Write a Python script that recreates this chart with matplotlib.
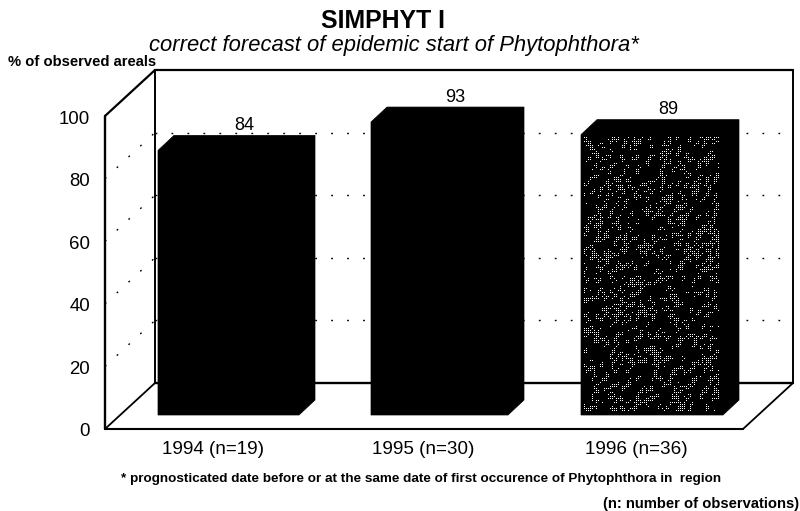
import matplotlib
matplotlib.use("Agg")
import matplotlib.pyplot as plt
from matplotlib.patches import Polygon
import numpy as np

plt.rcParams['font.family'] = ['Liberation Sans', 'DejaVu Sans']

# data
years = ['1994 (n=19)', '1995 (n=30)', '1996 (n=36)']
values = [84, 93, 89]
yticks = [0, 20, 40, 60, 80, 100]

W, H = 800, 511
fig = plt.figure(figsize=(W / 100, H / 100), dpi=100)
ax = fig.add_axes([0, 0, 1, 1])
ax.set_xlim(0, W)
ax.set_ylim(H, 0)
ax.axis('off')

# oblique box, in pixels of the picture
x_front, x_right = 105, 743
y_zero, y_top = 429, 116
dx, dy = 50, -46
per_unit = (y_zero - y_top) / 100.0


def wall_y(v):
    return y_zero + dy - v * per_unit


def front_y(v):
    return y_zero - v * per_unit


def line(xs, ys, lw=1.6):
    ax.plot(xs, ys, color='black', lw=lw, solid_capstyle='round', zorder=2)


# gridlines, back wall and left side wall
for v in yticks[1:-1]:
    ax.plot([x_front + dx, x_right + dx], [wall_y(v), wall_y(v)], color='black',
            lw=1.0, linestyle=(0, (1.3, 10.2)), zorder=1)
    ax.plot([x_front, x_front + dx], [front_y(v), wall_y(v)], color='black',
            lw=1.0, linestyle=(0, (1.3, 10.2)), zorder=1)

# box outline
line([x_front, x_front], [front_y(0), front_y(100)], 1.7)
line([x_front + dx, x_front + dx], [wall_y(0), wall_y(100)], 1.4)
line([x_right + dx, x_right + dx], [wall_y(0), wall_y(100)], 1.4)
line([x_front, x_front + dx], [front_y(100), wall_y(100)])
line([x_front + dx, x_right + dx], [wall_y(100), wall_y(100)])
line([x_front, x_front + dx], [front_y(0), wall_y(0)], 1.3)
line([x_front + dx, x_right + dx], [wall_y(0), wall_y(0)], 1.7)
line([x_front, x_right], [front_y(0), front_y(0)], 1.5)
line([x_right, x_right + dx], [front_y(0), wall_y(0)], 1.3)

# bars
bar_lefts = [158, 371, 581]
bar_rights = [299, 508, 723]
bar_base = 415
bar_scale = 3.15
bar_dx, bar_dy = 16, -15

for i, v in enumerate(values):
    x0 = bar_lefts[i]
    x1 = bar_rights[i]
    top = bar_base - v * bar_scale
    outline = [(x0, bar_base), (x0, top), (x0 + bar_dx, top + bar_dy),
               (x1 + bar_dx, top + bar_dy), (x1 + bar_dx, bar_base + bar_dy),
               (x1, bar_base)]
    ax.add_patch(Polygon(outline, closed=True, fc='black', ec='black', lw=0.5, zorder=3))
    ax.text((x0 + x1) / 2 + 16, top + bar_dy - 10, str(v), ha='center', va='center',
            fontsize=13, zorder=5)
    ax.text((x0 + x1) / 2 - 16, 450, years[i], ha='center', va='center', fontsize=13.6)

# speckle on the front of the last bar, fine dots in patchy clusters
x0, x1 = bar_lefts[2], bar_rights[2]
top = bar_base - values[2] * bar_scale
rows, cols = int(bar_base - 3 - top - 3), int(x1 - x0 - 6)
jj, ii = np.meshgrid(np.arange(cols), np.arange(rows))
a, b = (ii + jj // 3) // 5, (jj + ii // 4) // 4
block = ((a * 73856093) ^ (b * 19349663)) % 101
fine = ((ii * 83492791) ^ (jj * 2654435761)) % 97
on_grid = (ii % 2 == 0) & (jj % 2 == 0)
speck = on_grid & (block < 38) & (fine < 70)
ax.imshow(speck, cmap='gray', vmin=0, vmax=1, interpolation='nearest', aspect='auto',
          extent=[x0 + 3, x1 - 3, bar_base - 3, top + 3], zorder=4)
ax.set_xlim(0, W)
ax.set_ylim(H, 0)

# value axis labels
for v in yticks:
    ax.text(90, front_y(v) + 3, str(v), ha='right', va='center', fontsize=13.4)

ax.text(383, 21, 'SIMPHYT I', ha='center', va='center', fontsize=17.9, fontweight='bold')
ax.text(394, 46, 'correct forecast of epidemic start of Phytophthora*', ha='center',
        va='center', fontsize=15.8, style='italic')
ax.text(8, 62, '% of observed areals', ha='left', va='center', fontsize=10.6, fontweight='bold')
ax.text(121, 479, '* prognosticated date before or at the same date of first occurence of '
        'Phytophthora in  region', ha='left', va='center', fontsize=9.7, fontweight='bold')
ax.text(799, 504, '(n: number of observations)', ha='right', va='center', fontsize=10.6,
        fontweight='bold')

fig.savefig('out.png', dpi=100)
